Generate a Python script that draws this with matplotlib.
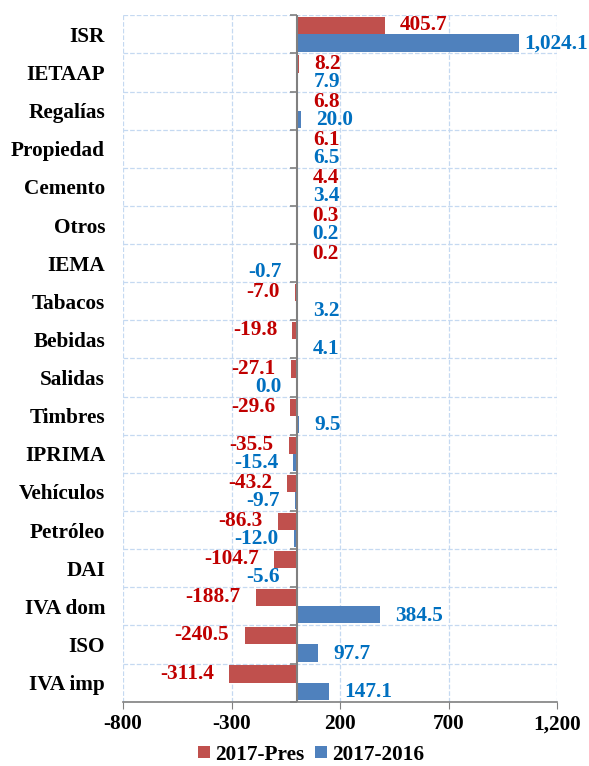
import matplotlib.pyplot as plt
import numpy as np
from matplotlib.ticker import FuncFormatter

plt.rcParams['font.family'] = ['Liberation Serif', 'DejaVu Serif']
plt.rcParams['font.weight'] = 'bold'

categorias = ['ISR', 'IETAAP', 'Regalías', 'Propiedad', 'Cemento', 'Otros', 'IEMA',
              'Tabacos', 'Bebidas', 'Salidas', 'Timbres', 'IPRIMA', 'Vehículos',
              'Petróleo', 'DAI', 'IVA dom', 'ISO', 'IVA imp']
pres = [405.7, 8.2, 6.8, 6.1, 4.4, 0.3, 0.2, -7.0, -19.8, -27.1, -29.6, -35.5,
        -43.2, -86.3, -104.7, -188.7, -240.5, -311.4]
anual = [1024.1, 7.9, 20.0, 6.5, 3.4, 0.2, -0.7, 3.2, 4.1, 0.0, 9.5, -15.4,
         -9.7, -12.0, -5.6, 384.5, 97.7, 147.1]
xticks = [-800, -300, 200, 700, 1200]

fs = 15.3

fig, ax = plt.subplots(figsize=(5.89, 7.66), dpi=100)
fig.subplots_adjust(left=0.209, right=0.946, top=0.980, bottom=0.084)

y = np.arange(len(categorias))
h = 0.45
ax.barh(y - h/2, pres, height=h, color='#C0504D', label='2017-Pres', zorder=3)
ax.barh(y + h/2, anual, height=h, color='#4F81BD', label='2017-2016', zorder=3)

def etiquetas(vals, ys, color, dy):
    for v, yy in zip(vals, ys):
        neg = v <= 0 and not (v == 0 and color == '#C00000')
        off = 4 if v > 900 else 11
        ax.annotate(f'{v:,.1f}', (v, yy), xytext=(-off if neg else off, dy),
                    textcoords='offset points', ha='right' if neg else 'left',
                    va='center', color=color, fontsize=fs, fontweight='bold',
                    zorder=4)

etiquetas(pres, y - h/2, '#C00000', 0.3)
etiquetas(anual, y + h/2, '#0070C0', -0.5)

ax.set_xlim(-800, 1200)
ax.set_ylim(len(categorias) - 0.5, -0.5)
ax.set_xticks(xticks)
ax.xaxis.set_major_formatter(FuncFormatter(lambda v, p: f'{v:,.0f}'))
ax.set_yticks(y)
ax.set_yticklabels(categorias)
ax.set_yticks(np.arange(-0.5, len(categorias)), minor=True)
ax.tick_params(axis='y', which='both', length=0, pad=13, labelsize=fs)
ax.tick_params(axis='x', length=5, color='#808080', pad=4, labelsize=fs)

ax.grid(axis='x', which='major', linestyle='--', color='#C5D9F1', linewidth=0.9, zorder=0)
ax.grid(axis='y', which='minor', linestyle='--', color='#C5D9F1', linewidth=0.9, zorder=0)
for s in ['left', 'top', 'right']:
    ax.spines[s].set_visible(False)
ax.spines['bottom'].set_color('#808080')
ax.spines['bottom'].set_linewidth(1.2)

# eje cero con marcas entre grupos
ax.axvline(0, color='#808080', linewidth=1.5, zorder=5)
ax.plot(np.zeros(len(categorias) + 1), np.arange(-0.5, len(categorias)), linestyle='none',
        marker=0, markersize=5, color='#808080', markeredgewidth=1.2, zorder=5, clip_on=False)

ax.legend(loc='center', bbox_to_anchor=(0.433, -0.077), ncol=2, frameon=False,
          fontsize=fs, handlelength=0.55, handleheight=0.55, columnspacing=0.5,
          handletextpad=0.25, borderpad=0)

fig.savefig('out.png', dpi=100)
